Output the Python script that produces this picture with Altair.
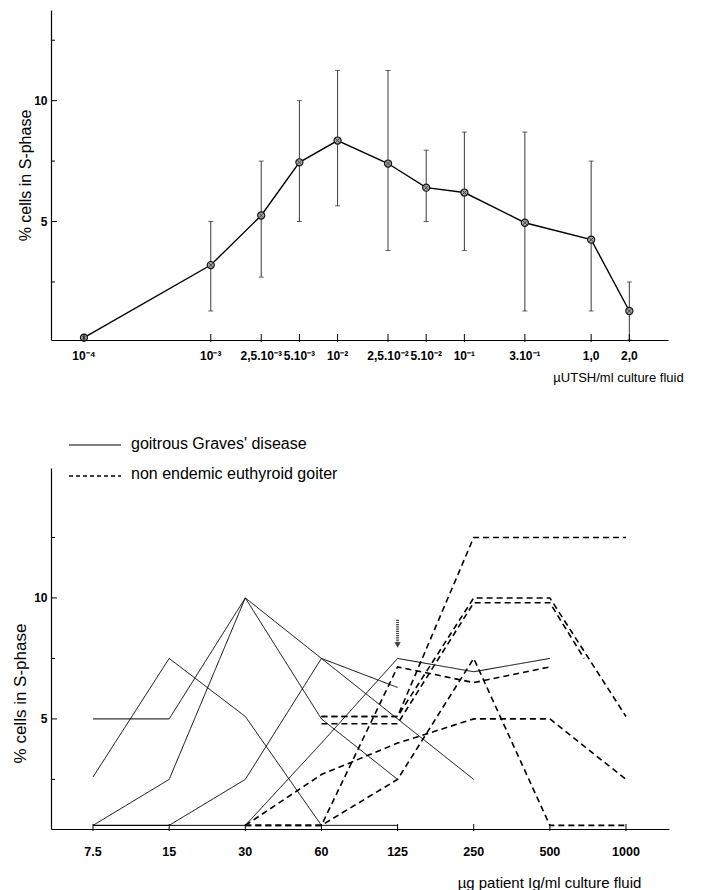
import altair as alt
import pandas as pd

# ---------------- top panel: TSH dose response ----------------
tsh_dose = [1e-4, 1e-3, 2.5e-3, 5e-3, 1e-2, 2.5e-2, 5e-2, 1e-1, 3e-1, 1.0, 2.0]
tsh_labels = ["10⁻⁴", "10⁻³", "2,5.10⁻³", "5.10⁻³", "10⁻²", "2,5.10⁻²",
              "5.10⁻²", "10⁻¹", "3.10⁻¹", "1,0", "2,0"]
tsh_mean = [0.2, 3.2, 5.25, 7.45, 8.35, 7.4, 6.4, 6.2, 4.95, 4.25, 1.3]
tsh_upper = [None, 5.0, 7.5, 10.0, 11.25, 11.25, 7.95, 8.7, 8.7, 7.5, 2.5]
tsh_lower = [None, 1.3, 2.7, 5.0, 5.65, 3.8, 5.0, 3.8, 1.3, 1.3, 0.1]

# ---------------- bottom panel: patient Ig dose response ----------------
ig_doses = ["7.5", "15", "30", "60", "125", "250", "500", "1000"]
group_names = ["goitrous Graves' disease", "non endemic  euthyroid goiter"]
graves_series = [
    [5.0, 5.0, 10.0, 5.0, 2.5, None, None, None],
    [2.6, 7.5, 5.1, 0.6, 0.6, None, None, None],
    [0.6, 2.5, 10.0, 7.5, 6.3, None, None, None],
    [0.6, 0.6, 2.5, 7.5, 5.0, 2.5, None, None],
    [0.6, 0.6, 0.6, 4.0, 7.5, 6.95, 7.5, None],
]
euthyroid_series = [
    [None, None, None, 5.1, 5.1, 10.0, 10.0, 5.1],
    [None, None, None, 4.8, 4.8, 9.8, 9.8, None],
    [None, None, None, 5.1, 5.1, 12.5, 12.5, 12.5],
    [None, None, 0.6, 0.6, 7.15, 6.5, 7.15, None],
    [None, None, 0.6, 0.6, 2.5, 7.5, 0.6, 0.6],
    [None, None, 0.6, 2.7, 4.0, 5.0, 5.0, 2.5],
]
# the second euthyroid curve stops part-way between 500 and 1000
euthyroid_tail_pos = 6.45
euthyroid_tail_val = 7.5

y_major = [5, 10]
y_minor = [2.5, 7.5, 12.5]
arrow_pos = 4
arrow_top = 9.1
arrow_tip = 8.05

FONT = "Liberation Sans"

# ---------------- build tables ----------------
tsh_df = pd.DataFrame({"dose": tsh_dose, "label": tsh_labels, "mean": tsh_mean,
                       "upper": tsh_upper, "lower": tsh_lower})
err_df = tsh_df.dropna(subset=["upper"])

rows = []
for i, s in enumerate(graves_series):
    for p, v in enumerate(s):
        if v is not None:
            rows.append({"series": f"G{i}", "group": group_names[0], "pos": p, "val": v})
for i, s in enumerate(euthyroid_series):
    for p, v in enumerate(s):
        if v is not None:
            rows.append({"series": f"E{i}", "group": group_names[1], "pos": p, "val": v})
rows.append({"series": "E1", "group": group_names[1], "pos": euthyroid_tail_pos,
             "val": euthyroid_tail_val})
ig_df = pd.DataFrame(rows)
ig_tick_df = pd.DataFrame({"pos": list(range(len(ig_doses))), "label": ig_doses})
major_df = pd.DataFrame({"v": y_major})
minor_df = pd.DataFrame({"v": y_minor})

# ---------------- top panel ----------------
W1, H1 = 617, 330
xs1 = alt.Scale(type="log", domain=[10 ** -4.26, 10 ** 0.606], nice=False)
ys1 = alt.Scale(domain=[0.1, 13.75], nice=False, zero=False)

x_axis1 = alt.Axis(labels=False, ticks=False, grid=False,
                   title="µUTSH/ml culture fluid", titleFontSize=13,
                   titleX=567, titleY=37, titleAlign="center", titleBaseline="middle")
y_axis1 = alt.Axis(values=y_major, ticks=False, grid=False, labels=True,
                   labelFontWeight="bold", labelFontSize=12, labelPadding=4,
                   title="% cells in S-phase", titleFontSize=16, titlePadding=0)

X1 = lambda f: alt.X(f, scale=xs1)
Y1 = lambda f: alt.Y(f, scale=ys1)

base1 = alt.Chart(tsh_df)
line1 = base1.mark_line(color="black", strokeWidth=1.4).encode(
    x=alt.X("dose:Q", scale=xs1, axis=x_axis1),
    y=alt.Y("mean:Q", scale=ys1, axis=y_axis1))
err = alt.Chart(err_df).mark_rule(color="#222", strokeWidth=0.9).encode(
    x=X1("dose:Q"), y=Y1("lower:Q"), y2="upper:Q")
cap_hi = alt.Chart(err_df).mark_tick(orient="horizontal", size=5, thickness=1,
                                     color="#222").encode(x=X1("dose:Q"), y=Y1("upper:Q"))
cap_lo = alt.Chart(err_df).mark_tick(orient="horizontal", size=5, thickness=1,
                                     color="#222").encode(x=X1("dose:Q"), y=Y1("lower:Q"))
pts = base1.mark_point(shape="circle", size=50, filled=True, fill="#a8a8a8",
                       stroke="#111", strokeWidth=1.2, opacity=1).encode(
    x=X1("dose:Q"), y=Y1("mean:Q"))
pts_x = base1.mark_point(shape="M-0.7,-0.7L0.7,0.7M-0.7,0.7L0.7,-0.7", size=50,
                         filled=False, stroke="#111", strokeWidth=1).encode(
    x=X1("dose:Q"), y=Y1("mean:Q"))
xt1 = base1.mark_rule(color="black", strokeWidth=1).encode(
    x=X1("dose:Q"), y=alt.value(H1 - 6), y2=alt.value(H1 + 2))
xl1 = base1.mark_text(fontWeight="bold", fontSize=12, color="black",
                      baseline="middle").encode(
    x=X1("dose:Q"), y=alt.value(H1 + 16), text="label:N")
ymaj1 = alt.Chart(major_df).mark_rule(color="black").encode(
    y=Y1("v:Q"), x=alt.value(0), x2=alt.value(6))
ymin1 = alt.Chart(minor_df).mark_rule(color="black").encode(
    y=Y1("v:Q"), x=alt.value(0), x2=alt.value(4))

top = alt.layer(line1, err, cap_hi, cap_lo, pts, pts_x, xt1, xl1, ymaj1, ymin1).properties(
    width=W1, height=H1)

# ---------------- bottom panel ----------------
W2, H2 = 618, 361
xs2 = alt.Scale(domain=[-0.552, 7.565], nice=False, zero=False)
ys2 = alt.Scale(domain=[0.45, 15.37], nice=False, zero=False)

x_axis2 = alt.Axis(labels=False, ticks=False, grid=False,
                   title="µg patient Ig/ml culture fluid", titleFontSize=15,
                   titleX=498, titleY=53, titleAlign="center", titleBaseline="middle")
y_axis2 = alt.Axis(values=y_major, ticks=False, grid=False, labels=True,
                   labelFontWeight="bold", labelFontSize=12, labelPadding=4,
                   title="% cells in S-phase", titleFontSize=17, titlePadding=4,
                   titleY=225)

X2 = lambda f: alt.X(f, scale=xs2)
Y2 = lambda f: alt.Y(f, scale=ys2)

lines2 = alt.Chart(ig_df).mark_line(color="black").encode(
    x=alt.X("pos:Q", scale=xs2, axis=x_axis2),
    y=alt.Y("val:Q", scale=ys2, axis=y_axis2),
    detail="series:N",
    strokeDash=alt.StrokeDash("group:N", scale=alt.Scale(domain=group_names,
                              range=[[1, 0], [6, 4]]), legend=None),
    size=alt.Size("group:N", scale=alt.Scale(domain=group_names, range=[1.0, 1.6]),
                  legend=None))
tk2 = alt.Chart(ig_tick_df)
xt2 = tk2.mark_rule(color="black").encode(
    x=X2("pos:Q"), y=alt.value(H2 - 5), y2=alt.value(H2 + 2))
xl2 = tk2.mark_text(fontWeight="bold", fontSize=12.5, color="black",
                    baseline="middle").encode(
    x=X2("pos:Q"), y=alt.value(H2 + 23), text="label:N")
ymaj2 = alt.Chart(major_df).mark_rule(color="black").encode(
    y=Y2("v:Q"), x=alt.value(0), x2=alt.value(6))
ymin2 = alt.Chart(minor_df).mark_rule(color="black").encode(
    y=Y2("v:Q"), x=alt.value(0), x2=alt.value(4))

arrow_df = pd.DataFrame({"pos": [arrow_pos], "top": [arrow_top], "tip": [arrow_tip]})
arrow_shaft = alt.Chart(arrow_df).mark_rule(color="#444", strokeWidth=3,
                                            strokeDash=[1.2, 1]).encode(
    x=X2("pos:Q"), y=Y2("top:Q"), y2="tip:Q")
arrow_head = alt.Chart(arrow_df).mark_point(shape="triangle-down", size=40, filled=True,
                                            color="#444", opacity=1).encode(
    x=X2("pos:Q"), y=Y2("tip:Q"))

leg0 = pd.DataFrame({"label": [group_names[0]]})
leg1 = pd.DataFrame({"label": [group_names[1]]})
leg_line0 = alt.Chart(leg0).mark_rule(color="black", strokeWidth=1).encode(
    x=alt.value(18), x2=alt.value(70), y=alt.value(-23))
leg_line1 = alt.Chart(leg1).mark_rule(color="black", strokeWidth=1.4,
                                      strokeDash=[4, 3]).encode(
    x=alt.value(18), x2=alt.value(70), y=alt.value(8))
leg_text0 = alt.Chart(leg0).mark_text(fontSize=16, align="left",
                                      baseline="middle", color="black").encode(
    x=alt.value(80), y=alt.value(-24), text="label:N")
leg_text1 = alt.Chart(leg1).mark_text(fontSize=16, align="left",
                                      baseline="middle", color="black").encode(
    x=alt.value(80), y=alt.value(6), text="label:N")

bottom = alt.layer(lines2, xt2, xl2, ymaj2, ymin2, arrow_shaft, arrow_head,
                   leg_line0, leg_line1, leg_text0, leg_text1).properties(
    width=W2, height=H2)

chart = alt.vconcat(top, bottom, spacing=128, bounds="flush").properties(
    padding={"left": 3, "top": 2, "right": 5, "bottom": 2},
    background="white",
).configure(font=FONT).configure_view(stroke=None).configure_axis(
    domainColor="black", domainWidth=1.2, labelColor="black", labelFont=FONT,
    titleColor="black", titleFont=FONT, titleFontWeight="normal", grid=False,
    ticks=False)

chart.save("out.html", embed_options={"renderer": "svg", "actions": False})
